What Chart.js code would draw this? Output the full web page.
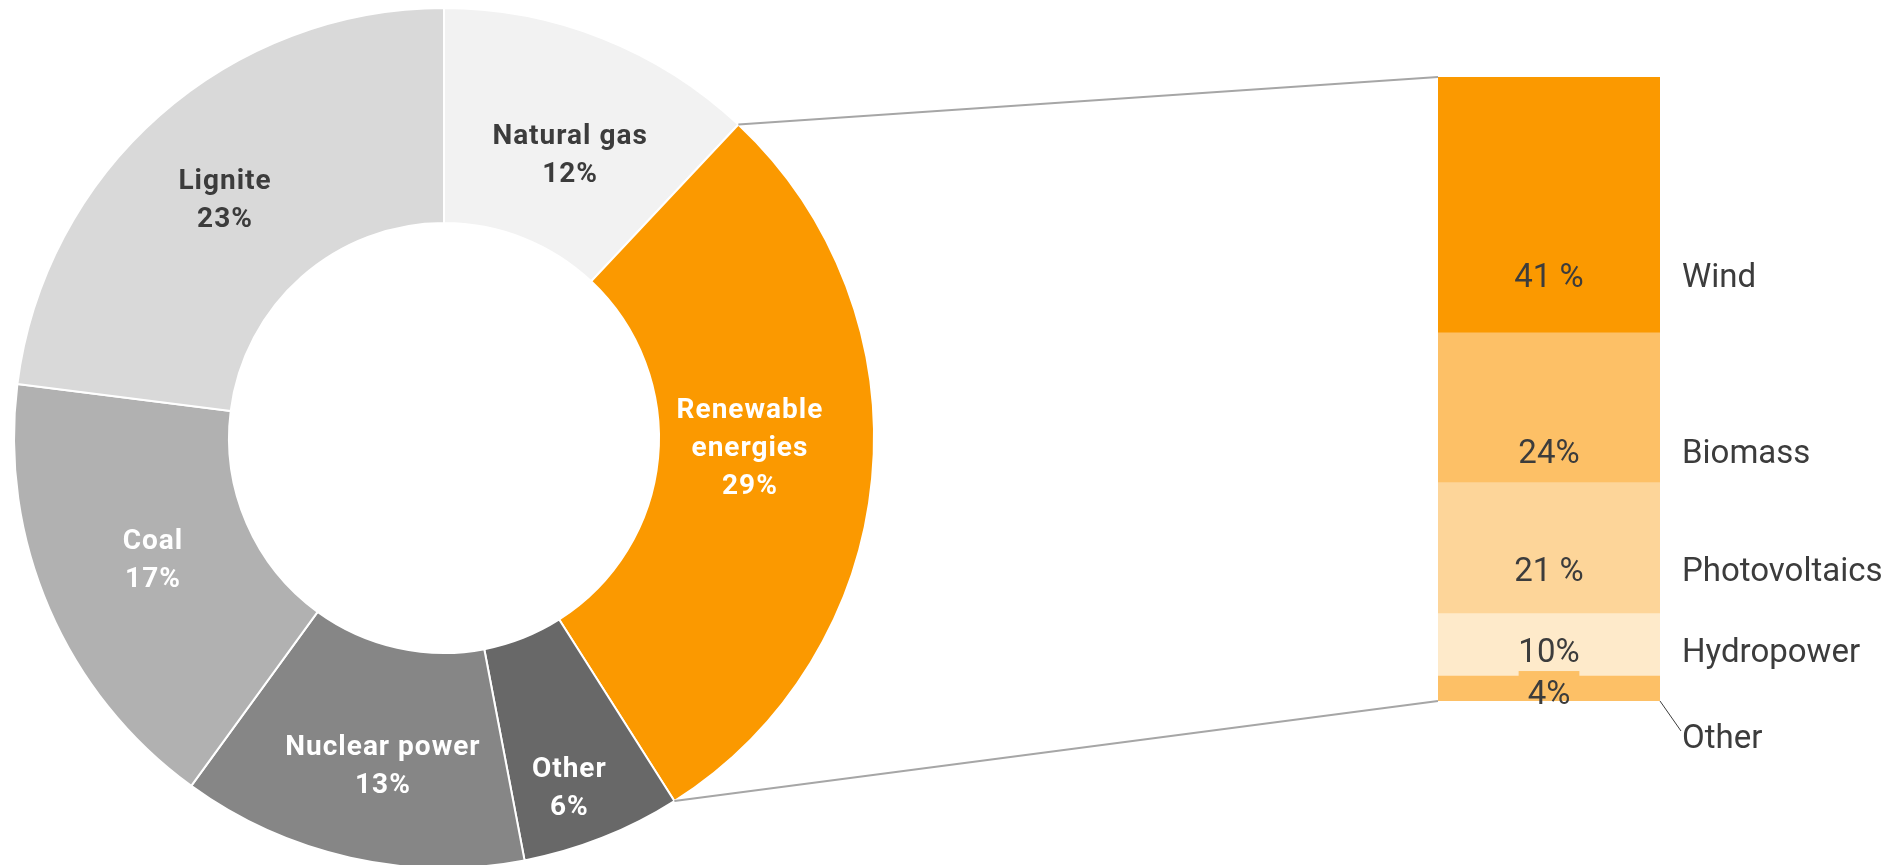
<!DOCTYPE html>
<html><head><meta charset="utf-8">
<script src="https://cdn.jsdelivr.net/npm/chart.js@4"></script>
<style>
html,body{margin:0;padding:0;background:#fff;overflow:hidden;width:1896px;height:865px}
canvas{position:absolute;left:0;top:0}
</style></head><body>
<canvas id="mix" width="900" height="880"></canvas>
<canvas id="ren" width="1896" height="865"></canvas>
<script>
// ---- data ----
const sources = ['Natural gas', 'Renewable energies', 'Other', 'Nuclear power', 'Coal', 'Lignite'];
const sourceLines = [['Natural gas'], ['Renewable', 'energies'], ['Other'], ['Nuclear power'], ['Coal'], ['Lignite']];
const shares = [12, 29, 6, 13, 17, 23];
const shareLabels = ['12%', '29%', '6%', '13%', '17%', '23%'];

const renewables = ['Other', 'Hydropower', 'Photovoltaics', 'Biomass', 'Wind'];
const renewableShares = [4, 10, 21, 24, 41];
const renewableLabels = ['4%', '10%', '21 %', '24%', '41 %'];

// ---- styles ----
const sourceColors = ['#f2f2f2', '#fb9900', '#686868', '#868686', '#b1b1b1', '#d9d9d9'];
const sourceTextColors = ['#3c3c3c', '#ffffff', '#ffffff', '#ffffff', '#ffffff', '#3c3c3c'];
const labelNudge = [
  {a: 2.3, r: 0.965}, {a: -3.9, r: 0.949}, {a: 1.8, r: 1.147},
  {a: -2.0, r: 1.029}, {a: 1.0, r: 0.976}, {a: -1.0, r: 1.007}
];
const barColors = ['#fdc066', '#feeaca', '#fdd599', '#fdc066', '#fb9900'];
const labelAnchor = [0.33, 0.41, 0.34, 0.21, 0.225]; // fraction up from segment bottom
const CAP = 0.711; // cap height ratio used to centre text on its capitals

const donutLabels = {
  id: 'donutLabels',
  afterDatasetsDraw(chart) {
    const ctx = chart.ctx;
    const meta = chart.getDatasetMeta(0);
    const fs = 28;
    ctx.save();
    ctx.font = 'bold ' + fs + 'px Roboto';
    ctx.textAlign = 'center';
    ctx.textBaseline = 'alphabetic';
    try { ctx.letterSpacing = '1px'; } catch (e) {}
    meta.data.forEach((arc, i) => {
      const mid = (arc.startAngle + arc.endAngle) / 2 + labelNudge[i].a * Math.PI / 180;
      const r = (arc.innerRadius + arc.outerRadius) / 2 * labelNudge[i].r;
      const x = arc.x + r * Math.cos(mid);
      const y = arc.y + r * Math.sin(mid);
      const lines = sourceLines[i].concat([shareLabels[i]]);
      const lh = 38;
      ctx.fillStyle = sourceTextColors[i];
      lines.forEach((t, j) => ctx.fillText(t, x, y + (j - (lines.length - 1) / 2) * lh + fs * CAP / 2));
    });
    ctx.restore();
  }
};

const mixChart = new Chart(document.getElementById('mix'), {
  type: 'doughnut',
  data: {
    labels: sources,
    datasets: [{
      data: shares,
      backgroundColor: sourceColors,
      borderColor: '#ffffff',
      borderWidth: 2
    }]
  },
  options: {
    responsive: false,
    animation: false,
    cutout: '50%',
    layout: {padding: {left: 13, right: 25, top: 7, bottom: 11}},
    plugins: {legend: {display: false}, tooltip: {enabled: false}}
  },
  plugins: [donutLabels]
});

const barLabels = {
  id: 'barLabels',
  afterDatasetsDraw(chart) {
    const ctx = chart.ctx;
    ctx.save();
    // connector lines from the renewable slice to the bar
    const arc = mixChart.getDatasetMeta(0).data[1];
    const topEl = chart.getDatasetMeta(renewables.length - 1).data[0];
    const botEl = chart.getDatasetMeta(0).data[0];
    const left = topEl.x - topEl.width / 2;
    const right = topEl.x + topEl.width / 2;
    const R = arc.outerRadius;
    ctx.strokeStyle = '#a6a6a6';
    ctx.lineWidth = 2;
    ctx.beginPath();
    ctx.moveTo(arc.x + R * Math.cos(arc.startAngle), arc.y + R * Math.sin(arc.startAngle));
    ctx.lineTo(left, topEl.y);
    ctx.moveTo(arc.x + R * Math.cos(arc.endAngle), arc.y + R * Math.sin(arc.endAngle));
    ctx.lineTo(left, botEl.base);
    ctx.stroke();

    const fs = 33;
    const dy = fs * CAP / 2;
    ctx.font = '400 ' + fs + 'px Roboto';
    ctx.textBaseline = 'alphabetic';
    ctx.fillStyle = '#3c3c3c';
    renewables.forEach((name, i) => {
      const el = chart.getDatasetMeta(i).data[0];
      const top = el.y, bottom = el.base;
      const y = bottom - (bottom - top) * labelAnchor[i];
      if (i === 0) {
        const w = ctx.measureText(renewableLabels[i]).width + 18;
        ctx.fillStyle = barColors[i];
        ctx.fillRect(el.x - w / 2, top - 5, w, 6);
        ctx.fillStyle = '#3c3c3c';
      }
      ctx.textAlign = 'center';
      ctx.fillText(renewableLabels[i], el.x, y + dy);
      ctx.textAlign = 'left';
      if (i === 0) {
        ctx.strokeStyle = '#3c3c3c';
        ctx.lineWidth = 1;
        ctx.beginPath();
        ctx.moveTo(right, bottom);
        ctx.lineTo(right + 21, bottom + 30);
        ctx.stroke();
        ctx.fillText(name, right + 22, bottom + 35 + dy);
      } else {
        ctx.fillText(name, right + 22, y + dy);
      }
    });
    ctx.restore();
  }
};

new Chart(document.getElementById('ren'), {
  type: 'bar',
  data: {
    labels: [''],
    datasets: renewables.map((name, i) => ({
      label: name,
      data: [renewableShares[i]],
      backgroundColor: barColors[i],
      borderWidth: 0,
      barPercentage: 1,
      categoryPercentage: 1
    }))
  },
  options: {
    responsive: false,
    animation: false,
    layout: {padding: {left: 1438, right: 236, top: 77, bottom: 164}},
    scales: {
      x: {stacked: true, display: false},
      y: {stacked: true, display: false, min: 0, max: 100}
    },
    plugins: {legend: {display: false}, tooltip: {enabled: false}}
  },
  plugins: [barLabels]
});
</script>
</body></html>
